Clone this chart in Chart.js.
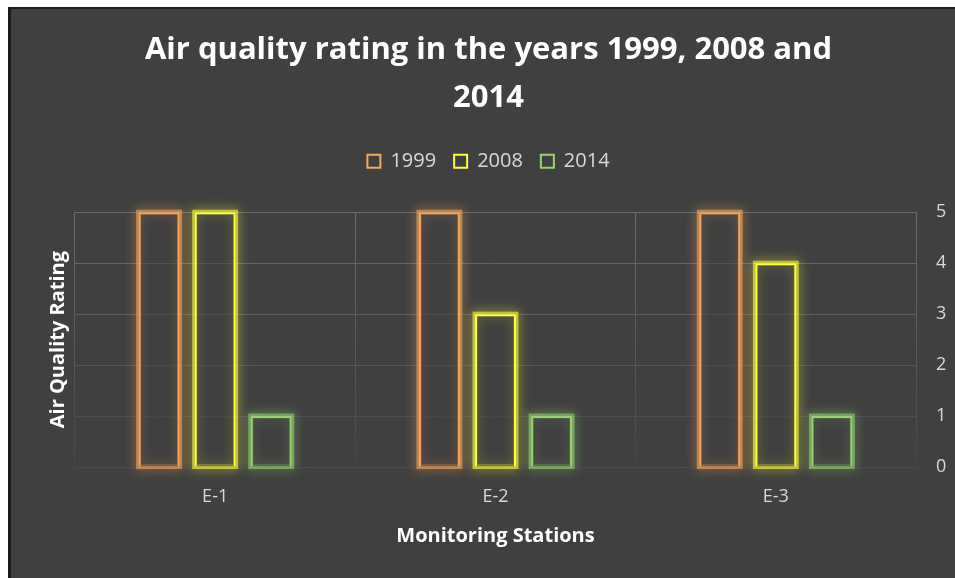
<!DOCTYPE html>
<html>
<head>
<meta charset="utf-8">
<script src="https://cdn.jsdelivr.net/npm/chart.js@4.4.1/dist/chart.umd.min.js"></script>
<style>
  html, body { margin: 0; padding: 0; background: #fff; }
  body { width: 955px; height: 578px; position: relative; overflow: hidden; }
  #panel {
    position: absolute; left: 8px; top: 7px; width: 947px; height: 571px;
    box-sizing: border-box; background: #404040;
    border-left: 3px solid #1c1c1c; border-top: 2px solid #1c1c1c;
  }
  #wrap { position: absolute; left: 8px; top: 7px; width: 947px; height: 571px; }
</style>
</head>
<body>
<div id="panel"></div>
<div id="wrap"><canvas id="airChart" width="947" height="571"></canvas></div>
<script>
const stations = ["E-1", "E-2", "E-3"];
const years = ["1999", "2008", "2014"];
const rating1999 = [5, 5, 5];
const rating2008 = [5, 3, 4];
const rating2014 = [1, 1, 1];
const colors = ["#f9a65a", "#ffff3c", "#95d46e"];

const font = "'Open Sans', Lato, sans-serif";

// soft glow round each bar, drawn under the bars
const glow = {
  id: "glow",
  beforeDatasetsDraw(chart) {
    const ctx = chart.ctx;
    chart.data.datasets.forEach((ds, i) => {
      const meta = chart.getDatasetMeta(i);
      meta.data.forEach((bar) => {
        const { x, y, base, width } = bar.getProps(["x", "y", "base", "width"], true);
        ctx.save();
        ctx.strokeStyle = ds.borderColor;
        ctx.globalAlpha = 0.6;
        ctx.shadowColor = ds.borderColor;
        ctx.shadowBlur = 12;
        ctx.lineWidth = 5;
        ctx.strokeRect(x - width / 2, y, width, base - y);
        ctx.restore();
      });
    });
  }
};

// extra room under the legend
const legendGap = {
  id: "legendGap",
  afterInit(chart) {
    const fit = chart.legend.fit;
    chart.legend.fit = function () {
      fit.call(this);
      this.height += 31;
    };
  }
};

// grid lines fade out toward the bottom
const yGridColor = (c) => {
  const v = c.tick ? c.tick.value : 0;
  return ["#4a4a4a", "#4e4e4e", "#565656", "#5e5e5e", "#666666", "#6c6c6c"][v] || "#5c5c5c";
};
const xGridColor = (c) => {
  const area = c.chart.chartArea;
  if (!area) return "#5c5c5c";
  const g = c.chart.ctx.createLinearGradient(0, area.top, 0, area.bottom);
  g.addColorStop(0, "#6c6c6c");
  g.addColorStop(1, "#464646");
  return g;
};

const data = {
  labels: stations,
  datasets: [
    { label: years[0], data: rating1999, borderColor: colors[0] },
    { label: years[1], data: rating2008, borderColor: colors[1] },
    { label: years[2], data: rating2014, borderColor: colors[2] }
  ].map((d) => ({
    ...d,
    backgroundColor: "rgba(64,64,64,0.55)",
    borderWidth: 2,
    categoryPercentage: 0.6,
    barPercentage: 0.73
  }))
};

const options = {
  responsive: false,
  animation: false,
  layout: { padding: { left: 14, right: 0, top: 0, bottom: 20 } },
  plugins: {
    title: {
      display: true,
      text: ["Air quality rating in the years 1999, 2008 and", "2014"],
      color: "#ffffff",
      font: { family: font, size: 31, weight: "bold", lineHeight: 1.52 },
      padding: { top: 20, bottom: 12 }
    },
    legend: {
      position: "top",
      labels: {
        color: "#d9d9d9",
        font: { family: font, size: 20 },
        boxWidth: 13,
        boxHeight: 13,
        padding: 18
      }
    },
    tooltip: { enabled: false }
  },
  scales: {
    x: {
      grid: { color: xGridColor, drawTicks: false },
      border: { color: "#4a4a4a" },
      ticks: { color: "#d9d9d9", font: { family: font, size: 18 }, padding: 19 },
      title: {
        display: true,
        text: "Monitoring Stations",
        color: "#ffffff",
        font: { family: font, size: 20, weight: "bold" },
        padding: { top: 0, bottom: 10 }
      },
      afterFit(scale) { scale.height = 91; }
    },
    y: {
      position: "right",
      min: 0,
      max: 5,
      grid: { color: yGridColor, drawTicks: false },
      border: { display: false },
      ticks: { stepSize: 1, color: "#d9d9d9", font: { family: font, size: 18 }, padding: 20 },
      afterFit(scale) { scale.width = 39; }
    },
    yTitle: {
      position: "left",
      grid: { display: false },
      border: { display: false },
      ticks: { display: false },
      title: {
        display: true,
        text: "Air Quality Rating",
        color: "#ffffff",
        font: { family: font, size: 20, weight: "bold" },
        padding: { top: 24, bottom: 0 }
      },
      afterFit(scale) { scale.width = 53; }
    }
  }
};

new Chart("airChart", { type: "bar", data, options, plugins: [glow, legendGap] });
</script>
</body>
</html>
